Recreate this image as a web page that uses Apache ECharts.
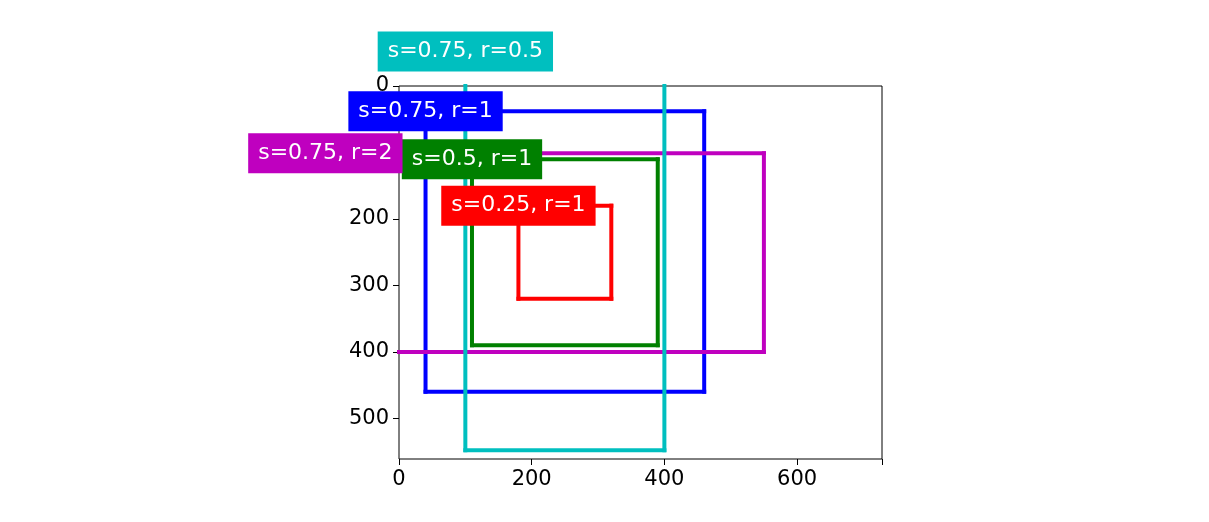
<!DOCTYPE html>
<html><head><meta charset="utf-8">
<script src="https://cdn.jsdelivr.net/npm/echarts@6/dist/echarts.min.js"></script>
<style>html,body{margin:0;background:#fff}#c{width:1209px;height:522px}</style>
</head><body><div id="c"></div>
<script>
const labels = ['s=0.75, r=1','s=0.5, r=1','s=0.25, r=1','s=0.75, r=2','s=0.75, r=0.5'];
const x1 = [40, 110, 180, -111, 100];
const y1 = [38, 110, 180, 101, -52];
const x2 = [460, 390, 320, 550, 400];
const y2 = [460, 390, 320, 400, 548];
const colors = ['#0000ff','#008000','#ff0000','#bf00bf','#00bfbf'];
const xTicks = [0,200,400,600];
const yTicks = [0,100,200,300,400,500];
const imgW = 728, imgH = 561;

const chart = echarts.init(document.getElementById('c'));
const data = labels.map((l,i)=>[x1[i],y1[i],x2[i],y2[i],i]);
chart.setOption({
  animation:false,
  grid:{left:399,top:86,width:483,height:373,show:true,borderColor:'#000',borderWidth:1,backgroundColor:'#fff'},
  xAxis:{type:'value',min:0,max:imgW,interval:200,position:'bottom',
    axisLine:{show:false,onZero:false},splitLine:{show:false},
    axisTick:{show:true,length:6,lineStyle:{color:'#000'}},
    axisLabel:{color:'#000',fontSize:21,fontFamily:'DejaVu Sans',margin:10,
      formatter:v=>xTicks.includes(v)?String(v):''}},
  yAxis:{type:'value',min:0,max:imgH,inverse:true,interval:100,
    axisLine:{show:false,onZero:false},splitLine:{show:false},
    axisTick:{show:true,length:6,lineStyle:{color:'#000'}},
    axisLabel:{color:'#000',fontSize:21,fontFamily:'DejaVu Sans',margin:10,
      showMaxLabel:false,formatter:v=>yTicks.includes(v)?String(v):''}},
  series:[{
    type:'custom',
    clip:false,
    data:data,
    renderItem:(params,api)=>{
      const i = api.value(4);
      const p1 = api.coord([api.value(0),api.value(1)]);
      const p2 = api.coord([api.value(2),api.value(3)]);
      const cs = params.coordSys;
      const children = [];
      const L=cs.x,T=cs.y,R=cs.x+cs.width,B=cs.y+cs.height;
      const clamp=(v,a,b)=>Math.max(a,Math.min(b,v));
      const segs=[];
      if(p1[1]>=T&&p1[1]<=B) segs.push([clamp(p1[0],L,R),p1[1],clamp(p2[0],L,R),p1[1]]);
      if(p2[1]>=T&&p2[1]<=B) segs.push([clamp(p1[0],L,R),p2[1],clamp(p2[0],L,R),p2[1]]);
      if(p1[0]>=L&&p1[0]<=R) segs.push([p1[0],clamp(p1[1],T,B),p1[0],clamp(p2[1],T,B)]);
      if(p2[0]>=L&&p2[0]<=R) segs.push([p2[0],clamp(p1[1],T,B),p2[0],clamp(p2[1],T,B)]);
      segs.forEach(s=>children.push({type:'line',shape:{x1:s[0],y1:s[1],x2:s[2],y2:s[3]},
        style:{stroke:colors[i],lineWidth:4,lineCap:'square'}}));
      children.push({type:'text',x:p1[0],y:p1[1],z2:10,style:{
        text:labels[i],fill:'#fff',fontSize:22,fontFamily:'DejaVu Sans',
        align:'center',verticalAlign:'middle',backgroundColor:colors[i],padding:[9,10,9,10]}});
      return {type:'group',children};
    }
  }]
});
</script></body></html>
